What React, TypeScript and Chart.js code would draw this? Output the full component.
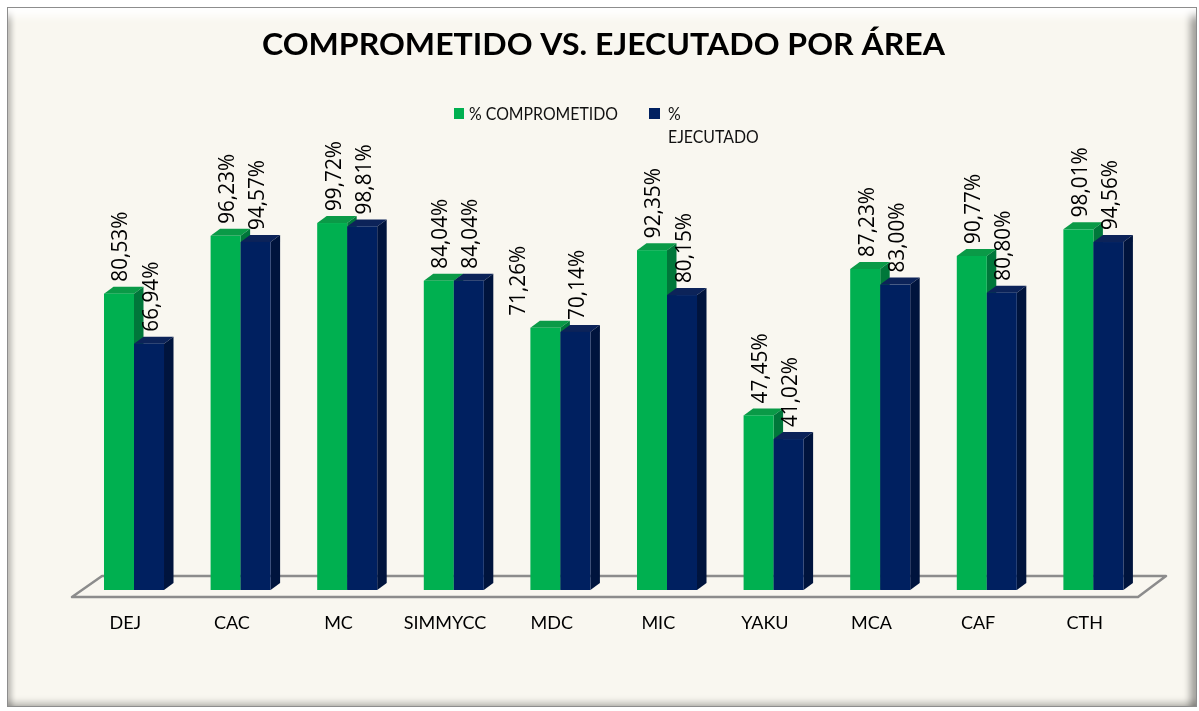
import { useEffect, useRef } from 'react';
import { Chart, registerables } from 'chart.js';

Chart.register(...registerables);

const categories = ['DEJ', 'CAC', 'MC', 'SIMMYCC', 'MDC', 'MIC', 'YAKU', 'MCA', 'CAF', 'CTH'];
const comprometido = [80.53, 96.23, 99.72, 84.04, 71.26, 92.35, 47.45, 87.23, 90.77, 98.01];
const ejecutado = [66.94, 94.57, 98.81, 84.04, 70.14, 80.15, 41.02, 83.0, 80.8, 94.56];
const seriesNames = ['% COMPROMETIDO', '% EJECUTADO'];
const yMin = 0;
const yMax = 100;
const TITLE = 'COMPROMETIDO VS. EJECUTADO POR ÁREA';

// styling
const FRONT = ['#00b050', '#002060'];
const TOP = ['#0a9a47', '#0c2359'];
const SIDE = ['#00773a', '#00143d'];
const DEPTH_X = 9.5;
const DEPTH_Y = -7;
const LABEL_GAP = 12;
const LABEL_LEN = 70;
const LABEL_NUDGE: Record<string, number> = { 'MDC-0': -29 };
const FONT = 'Lato, "Open Sans", sans-serif';
const VALUE_FONT = '"Open Sans", Lato, sans-serif';

const fmt = (v: number) => v.toFixed(2).replace('.', ',') + '%';

function scaledText(ctx: CanvasRenderingContext2D, text: string, x: number, y: number, sx: number, align: 'left' | 'center') {
  ctx.save();
  ctx.translate(x, y);
  ctx.scale(sx, 1);
  ctx.textAlign = align;
  ctx.fillText(text, 0, 0);
  ctx.restore();
}

const threeD = {
  id: 'threeD',
  beforeDatasetsDraw(chart: any) {
    const { ctx, chartArea } = chart;
    const base = chart.scales.y.getPixelForValue(yMin);
    const shift = 8.7;
    const fy = base + 7;
    const fl = chartArea.left - shift;
    const fr = chartArea.right - shift;
    ctx.save();
    ctx.strokeStyle = '#8c8c8c';
    ctx.lineWidth = 2.5;
    ctx.lineJoin = 'round';
    ctx.beginPath();
    ctx.moveTo(fl, fy);
    ctx.lineTo(fr, fy);
    ctx.lineTo(fr + 28, fy - 21);
    ctx.lineTo(fl + 30, fy - 21);
    ctx.closePath();
    ctx.stroke();
    ctx.restore();
  },
  afterDatasetsDraw(chart: any) {
    const { ctx } = chart;
    const metas = [chart.getDatasetMeta(0), chart.getDatasetMeta(1)];
    ctx.save();
    for (let i = 0; i < categories.length; i++) {
      for (let d = 0; d < 2; d++) {
        const el = metas[d].data[i];
        const p = el.getProps(['x', 'y', 'base', 'width'], true);
        const x0 = p.x - p.width / 2;
        const x1 = p.x + p.width / 2;
        const yt = p.y;
        const yb = p.base;
        ctx.fillStyle = TOP[d];
        ctx.beginPath();
        ctx.moveTo(x0, yt);
        ctx.lineTo(x1, yt);
        ctx.lineTo(x1 + DEPTH_X, yt + DEPTH_Y);
        ctx.lineTo(x0 + DEPTH_X, yt + DEPTH_Y);
        ctx.closePath();
        ctx.fill();
        ctx.fillStyle = SIDE[d];
        ctx.beginPath();
        ctx.moveTo(x1, yt);
        ctx.lineTo(x1 + DEPTH_X, yt + DEPTH_Y);
        ctx.lineTo(x1 + DEPTH_X, yb + DEPTH_Y);
        ctx.lineTo(x1, yb);
        ctx.closePath();
        ctx.fill();
        ctx.fillStyle = FRONT[d];
        ctx.fillRect(x0, yt, x1 - x0, yb - yt);
      }
    }
    // value labels
    ctx.fillStyle = '#000';
    ctx.font = `22px ${VALUE_FONT}`;
    ctx.textBaseline = 'alphabetic';
    const m = ctx.measureText('80,53%');
    const sx = LABEL_LEN / m.width;
    const asc = m.actualBoundingBoxAscent || 16;
    const series = [comprometido, ejecutado];
    for (let d = 0; d < 2; d++) {
      for (let i = 0; i < categories.length; i++) {
        const el = metas[d].data[i];
        const p = el.getProps(['x', 'y'], true);
        const nudge = LABEL_NUDGE[`${categories[i]}-${d}`] || 0;
        ctx.save();
        ctx.translate(p.x + 0.5 + nudge, p.y - LABEL_GAP);
        ctx.rotate(-Math.PI / 2);
        ctx.scale(sx, 1);
        ctx.textAlign = 'left';
        ctx.fillText(fmt(series[d][i]), 0, asc / 2);
        ctx.restore();
      }
    }
    // category labels
    const xs = chart.scales.x;
    ctx.font = `18px ${FONT}`;
    ctx.fillStyle = '#000';
    for (let i = 0; i < categories.length; i++) {
      const cx = xs.getPixelForValue(i) - 8.7;
      scaledText(ctx, categories[i], cx, 629, 1, 'center');
    }
    ctx.restore();
  },
  afterDraw(chart: any) {
    const { ctx } = chart;
    ctx.save();
    ctx.fillStyle = '#000';
    ctx.textBaseline = 'alphabetic';
    ctx.font = `bold 31px ${FONT}`;
    const tw = ctx.measureText(TITLE).width;
    scaledText(ctx, TITLE, 603.5, 55, 683 / tw, 'center');
    // legend
    ctx.font = `17px ${FONT}`;
    const lw = ctx.measureText(seriesNames[0]).width;
    const lsx = 149 / lw;
    ctx.fillStyle = FRONT[0];
    ctx.fillRect(454, 108, 10, 11);
    ctx.fillStyle = '#111';
    scaledText(ctx, seriesNames[0], 469, 119.5, lsx, 'left');
    ctx.fillStyle = FRONT[1];
    ctx.fillRect(649, 108, 11, 11);
    ctx.fillStyle = '#111';
    const parts = seriesNames[1].split(' ');
    scaledText(ctx, parts[0], 668, 119.5, lsx, 'left');
    scaledText(ctx, parts[1], 668, 142.5, lsx, 'left');
    ctx.restore();
  },
};

export default function App() {
  const ref = useRef<HTMLCanvasElement>(null);
  useEffect(() => {
    if (!ref.current) return;
    const chart = new Chart(ref.current, {
      type: 'bar',
      data: {
        labels: categories,
        datasets: [
          { label: seriesNames[0], data: comprometido, backgroundColor: 'rgba(0,0,0,0)', categoryPercentage: 0.563, barPercentage: 1 },
          { label: seriesNames[1], data: ejecutado, backgroundColor: 'rgba(0,0,0,0)', categoryPercentage: 0.563, barPercentage: 1 },
        ],
      },
      options: {
        responsive: false,
        animation: false,
        devicePixelRatio: 1,
        layout: { padding: { left: 80.7, right: 52.3, top: 222, bottom: 121 } },
        plugins: { legend: { display: false }, title: { display: false }, tooltip: { enabled: false } },
        scales: {
          x: { display: false },
          y: { display: false, min: yMin, max: yMax },
        },
        events: [],
      },
      plugins: [threeD],
    });
    return () => chart.destroy();
  }, []);
  return (
    <div style={{ position: 'absolute', left: 0, top: 0, width: 1199, height: 711, background: '#fff' }}>
      <div
        style={{
          position: 'absolute',
          left: 7,
          top: 7,
          width: 1190,
          height: 700,
          boxSizing: 'border-box',
          border: '1px solid #8d8d8d',
          background: '#f9f7f0',
          boxShadow:
            'inset 0 16px 10px -8px rgba(255,255,255,1), inset -10px 0 7px -4px rgba(0,0,0,0.35), inset 0 -8px 6px -4px rgba(0,0,0,0.22), inset 7px 0 5px -3px rgba(0,0,0,0.22)',
        }}
      />
      <canvas ref={ref} width={1199} height={711} style={{ position: 'absolute', left: 0, top: 0 }} />
    </div>
  );
}
